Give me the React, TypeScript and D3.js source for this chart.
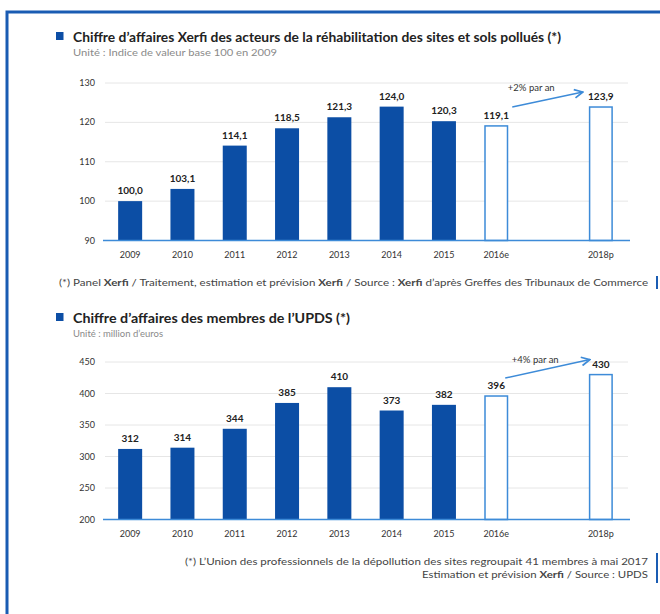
import React from 'react';
import * as d3 from 'd3';

// categories (2017 is an empty slot between 2016e and 2018p)
const years = ['2009', '2010', '2011', '2012', '2013', '2014', '2015', '2016e', '2018p'];
const slots = ['2009', '2010', '2011', '2012', '2013', '2014', '2015', '2016e', '2017', '2018p'];
const estimated = ['2016e', '2018p'];

const indexValues = [100.0, 103.1, 114.1, 118.5, 121.3, 124.0, 120.3, 119.1, 123.9];
const indexTicks = [90, 100, 110, 120, 130];

const updsValues = [312, 314, 344, 385, 410, 373, 382, 396, 430];
const updsTicks = [200, 250, 300, 350, 400, 450];

const W = 660;
const H = 614;
const FONT = 'Lato, "Open Sans", sans-serif';
const DARK_BLUE = '#0c4ea5';
const LIGHT_BLUE = '#3d8bd8';
const FRAME_BLUE = '#1a5cb3';

const x = d3.scalePoint<string>().domain(slots).range([104, 627]).padding(0.5);
const BAR_W = 24;

interface PanelProps {
  values: number[];
  ticks: number[];
  domain: [number, number];
  yRange: [number, number];
  fmt: (v: number) => string;
  trend: string;
  trendStart: [number, number];
  trendEnd: [number, number];
  trendLabel: [number, number];
  arrowId: string;
}

const Panel: React.FC<PanelProps> = ({
  values,
  ticks,
  domain,
  yRange,
  fmt,
  trend,
  trendStart,
  trendEnd,
  trendLabel,
  arrowId,
}) => {
  const y = d3.scaleLinear().domain(domain).range(yRange);
  const base = y(domain[0]);
  const iE = years.indexOf('2016e');
  const iP = years.indexOf('2018p');
  const sx = (x('2016e') as number) + trendStart[0];
  const sy = y(values[iE]) + trendStart[1];
  const ex = (x('2018p') as number) + trendEnd[0];
  const ey = y(values[iP]) + trendEnd[1];

  return (
    <g>
      {ticks.slice(1).map((t) => (
        <line key={t} x1={105} x2={628} y1={y(t)} y2={y(t)} stroke="#e6e6e6" strokeWidth={1} />
      ))}
      {ticks.map((t) => (
        <text
          key={'t' + t}
          x={95}
          y={y(t) + 3}
          textAnchor="end"
          fontSize={9}
          fill="#333"
          fontFamily={FONT}
        >
          {t}
        </text>
      ))}
      {years.map((yr, i) => {
        const cx = x(yr) as number;
        const est = estimated.includes(yr);
        const top = y(values[i]);
        return (
          <g key={yr}>
            <rect
              x={cx - BAR_W / 2 + (est ? 0.75 : 0)}
              y={top}
              width={BAR_W - (est ? 1.5 : 0)}
              height={base - top}
              fill={est ? '#fff' : DARK_BLUE}
              stroke={est ? LIGHT_BLUE : 'none'}
              strokeWidth={1.5}
            />
            <text
              x={cx}
              y={top - 7}
              textAnchor="middle"
              fontSize={10}
              fontWeight="bold"
              fill="#222"
              fontFamily={FONT}
            >
              {fmt(values[i])}
            </text>
            <text
              x={cx}
              y={base + 17}
              textAnchor="middle"
              fontSize={9}
              fill="#333"
              fontFamily={FONT}
            >
              {yr}
            </text>
          </g>
        );
      })}
      <line x1={103} x2={630} y1={base} y2={base} stroke={LIGHT_BLUE} strokeWidth={1.5} />
      <defs>
        <marker
          id={arrowId}
          viewBox="0 0 10 10"
          refX={9}
          refY={5}
          markerWidth={7}
          markerHeight={7}
          orient="auto"
        >
          <path d="M1,1 L9,5 L1,9" fill="none" stroke={LIGHT_BLUE} strokeWidth={1.6} />
        </marker>
      </defs>
      <line
        x1={sx}
        y1={sy}
        x2={ex}
        y2={ey}
        stroke={LIGHT_BLUE}
        strokeWidth={1.5}
        markerEnd={`url(#${arrowId})`}
      />
      <text
        x={sx + trendLabel[0]}
        y={sy + trendLabel[1]}
        textAnchor="middle"
        fontSize={9.5}
        fill="#333"
        fontFamily={FONT}
      >
        {trend}
      </text>
    </g>
  );
};

const Title: React.FC<{ y: number; title: string; titleLen: number; unit: string; unitLen: number }> = ({
  y,
  title,
  titleLen,
  unit,
  unitLen,
}) => (
  <g>
    <rect x={56} y={y - 10} width={7.5} height={8} fill={DARK_BLUE} />
    <text
      x={73}
      y={y}
      fontSize={12.5}
      fontWeight="bold"
      fill="#222"
      fontFamily={FONT}
      textLength={titleLen}
      lengthAdjust="spacingAndGlyphs"
    >
      {title}
    </text>
    <text
      x={73}
      y={y + 14}
      fontSize={9}
      fill="#8a8a8a"
      fontFamily={FONT}
      textLength={unitLen}
      lengthAdjust="spacingAndGlyphs"
    >
      {unit}
    </text>
  </g>
);

export default function App() {
  const fmt1 = (v: number) => v.toFixed(1).replace('.', ',');
  const fmt0 = (v: number) => String(v);

  return (
    <div style={{ position: 'absolute', left: 0, top: 0 }}>
      <svg width={W} height={H} style={{ display: 'block', background: '#fff' }}>
        <path d={`M7,${H} V12 H${W}`} fill="none" stroke={FRAME_BLUE} strokeWidth={3} />

        <Title
          y={42}
          title="Chiffre d’affaires Xerfi des acteurs de la réhabilitation des sites et sols pollués (*)"
          titleLen={488}
          unit="Unité : Indice de valeur base 100 en 2009"
          unitLen={204}
        />
        <Panel
          values={indexValues}
          ticks={indexTicks}
          domain={[90, 130]}
          yRange={[240.5, 83]}
          fmt={fmt1}
          trend="+2% par an"
          trendStart={[16, -19]}
          trendEnd={[-18, -15]}
          trendLabel={[19, -16]}
          arrowId="arr1"
        />
        <text
          x={59}
          y={286}
          fontSize={9}
          fill="#444"
          fontFamily={FONT}
          textLength={589}
          lengthAdjust="spacingAndGlyphs"
        >
          (*) Panel <tspan fontWeight="bold">Xerfi</tspan> / Traitement, estimation et prévision{' '}
          <tspan fontWeight="bold">Xerfi</tspan> / Source : <tspan fontWeight="bold">Xerfi</tspan>{' '}
          d’après Greffes des Tribunaux de Commerce
        </text>
        <line x1={657} x2={657} y1={276} y2={289} stroke={FRAME_BLUE} strokeWidth={2} />

        <Title
          y={323}
          title="Chiffre d’affaires des membres de l’UPDS (*)"
          titleLen={277}
          unit="Unité : million d’euros"
          unitLen={90}
        />
        <Panel
          values={updsValues}
          ticks={updsTicks}
          domain={[200, 450]}
          yRange={[519.5, 362]}
          fmt={fmt0}
          trend="+4% par an"
          trendStart={[9, -18]}
          trendEnd={[-11, -15]}
          trendLabel={[30, -15]}
          arrowId="arr2"
        />
        <text
          x={648}
          y={565}
          textAnchor="end"
          fontSize={9}
          fill="#444"
          fontFamily={FONT}
          textLength={463}
          lengthAdjust="spacingAndGlyphs"
        >
          (*) L’Union des professionnels de la dépollution des sites regroupait 41 membres à mai 2017
        </text>
        <text
          x={648}
          y={578}
          textAnchor="end"
          fontSize={9}
          fill="#444"
          fontFamily={FONT}
          textLength={226}
          lengthAdjust="spacingAndGlyphs"
        >
          Estimation et prévision <tspan fontWeight="bold">Xerfi</tspan> / Source : UPDS
        </text>
        <line x1={657} x2={657} y1={553} y2={583} stroke={FRAME_BLUE} strokeWidth={2} />
      </svg>
    </div>
  );
}
